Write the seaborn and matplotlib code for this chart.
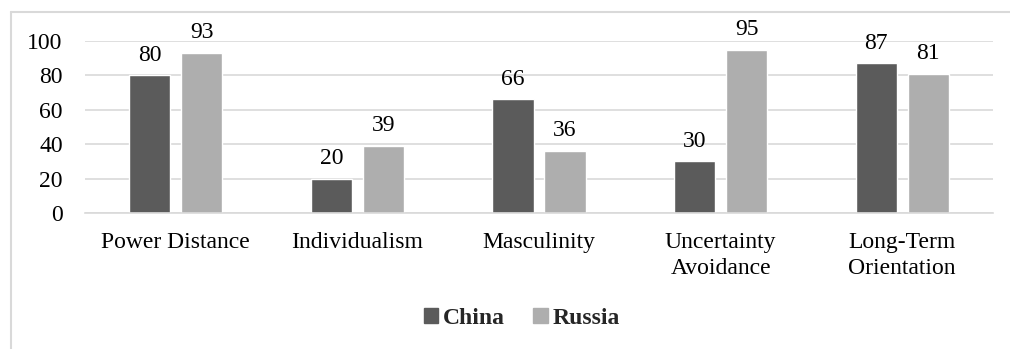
import matplotlib
matplotlib.use("Agg")
import matplotlib.pyplot as plt
from matplotlib.lines import Line2D
import seaborn as sns
import pandas as pd

dimensions = ["Power Distance", "Individualism", "Masculinity",
              "Uncertainty\nAvoidance", "Long-Term\nOrientation"]
countries = ["China", "Russia"]
china = [80, 20, 66, 30, 87]
russia = [93, 39, 36, 95, 81]
palette = {"China": "#5B5B5B", "Russia": "#AEAEAE"}

df = pd.DataFrame({
    "dimension": dimensions * 2,
    "country": ["China"] * len(dimensions) + ["Russia"] * len(dimensions),
    "score": china + russia,
})

sns.set_theme(style="white")
plt.rcParams["font.family"] = ["Liberation Serif", "DejaVu Serif"]

W, H = 1010, 349
fig = plt.figure(figsize=(W / 100, H / 100), dpi=100)
ax = fig.add_axes([85 / W, 1 - 213 / H, (993 - 85) / W, (213 - 41) / H])

sns.barplot(data=df, x="dimension", y="score", hue="country",
            hue_order=countries, palette=palette, order=dimensions,
            width=0.573, gap=0.21, saturation=1, ax=ax, legend=False)

ax.set_ylim(0, 100)
ax.set_xlim(-0.5, len(dimensions) - 0.5)
ax.set_yticks(range(0, 101, 20))
ax.grid(axis="y", color="#D9D9D9", linewidth=1.2)
ax.set_axisbelow(True)
for s in ["top", "right", "left"]:
    ax.spines[s].set_visible(False)
ax.spines["bottom"].set_color("#D9D9D9")
ax.spines["bottom"].set_linewidth(1.2)
ax.set_xlabel("")
ax.set_ylabel("")
ax.tick_params(axis="y", labelsize=17, length=0, pad=16, labelcolor="black")
ax.tick_params(axis="x", labelsize=17, length=0, pad=14, labelcolor="black")
for lbl in ax.get_xticklabels():
    lbl.set_linespacing(1.28)

for cont in ax.containers:
    ax.bar_label(cont, fmt="%d", padding=7, fontsize=17, color="black")

handles = [plt.Rectangle((0, 0), 1, 1, color=palette[c]) for c in countries]
fig.legend(handles, countries, loc="center", bbox_to_anchor=(522 / W, 1 - 318 / H),
           ncol=2, frameon=False, handlelength=0.6, handleheight=0.6,
           handletextpad=0.2, columnspacing=1.2,
           prop={"family": "Liberation Serif", "weight": "bold", "size": 17})

# chart area border
border = "#D9D9D9"
fig.add_artist(Line2D([11 / W, 1.0], [1 - 12 / H, 1 - 12 / H],
                      transform=fig.transFigure, color=border, linewidth=1.5))
fig.add_artist(Line2D([11 / W, 11 / W], [1 - 12 / H, 0.0],
                      transform=fig.transFigure, color=border, linewidth=1.5))

fig.savefig("out.png", dpi=100, facecolor="white")
